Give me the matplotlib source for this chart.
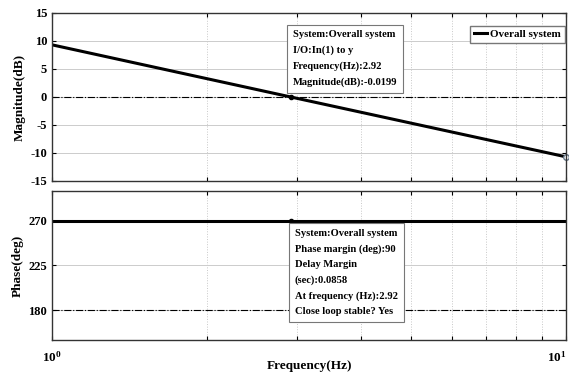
import matplotlib
matplotlib.use("Agg")
import matplotlib.pyplot as plt
from matplotlib.ticker import FixedLocator, NullFormatter

plt.rcParams['font.family'] = ['Liberation Serif', 'DejaVu Serif']
plt.rcParams['font.weight'] = 'bold'
plt.rcParams['axes.unicode_minus'] = False
plt.rcParams['mathtext.fontset'] = 'custom'
plt.rcParams['mathtext.rm'] = 'Liberation Serif:bold'
plt.rcParams['mathtext.bf'] = 'Liberation Serif:bold'
plt.rcParams['mathtext.it'] = 'Liberation Serif:bold'

# data
freq_hz = [1.0, 2.92, 10.0]
mag_db = [9.31, -0.0199, -10.69]
phase_deg = [270, 270, 270]
cross_freq = 2.92
cross_mag = -0.0199
cross_phase = 270
mag_ticks = [-15, -10, -5, 0, 5, 10, 15]
phase_ticks = [180, 225, 270]
minor_freqs = [2, 3, 4, 5, 6, 7, 8, 9]
freq_tick_labels = ['$\\mathbf{10^0}$', '$\\mathbf{10^1}$']

fig = plt.figure(figsize=(5.69, 3.81), dpi=100)
ax1 = fig.add_axes([0.0914, 0.525, 0.9033, 0.441])
ax2 = fig.add_axes([0.0914, 0.1076, 0.9033, 0.3911])

for ax in (ax1, ax2):
    ax.set_xscale('log')
    ax.set_xlim(1, 10)
    ax.xaxis.set_major_locator(FixedLocator([1, 10]))
    ax.xaxis.set_minor_locator(FixedLocator(minor_freqs))
    ax.xaxis.set_minor_formatter(NullFormatter())
    ax.tick_params(axis='both', which='both', direction='in', top=True, right=True,
                   labelsize=9, length=3, width=0.8)
    ax.grid(True, axis='x', which='both', color='#c8c8c8', linestyle=':', linewidth=0.7)
    ax.grid(True, axis='y', which='major', color='#cccccc', linestyle='-', linewidth=0.7)
    for s in ax.spines.values():
        s.set_linewidth(1.0)
        s.set_color('#333333')

# magnitude
ax1.plot(freq_hz, mag_db, color='black', linewidth=2.2, label='Overall system')
ax1.axhline(0, color='black', linestyle='-.', linewidth=0.8)
ax1.set_ylim(-15, 15)
ax1.set_yticks(mag_ticks)
ax1.set_xticklabels([])
ax1.set_ylabel('Magnitude(dB)', fontsize=9.5, fontweight='bold', labelpad=3)
ax1.plot([cross_freq], [cross_mag], marker='o', markersize=3, color='black')
ax1.plot([freq_hz[-1]], [mag_db[-1]], marker='o', markersize=4, markerfacecolor='white',
         markeredgecolor='#667788', clip_on=False)
leg = ax1.legend(loc='upper right', bbox_to_anchor=(0.998, 0.925), fontsize=8,
                 handlelength=1.2, handletextpad=0.3,
                 borderpad=0.35, fancybox=False, framealpha=1, edgecolor='#777777',
                 borderaxespad=0.0)
ax1.text(2.94, 11.9,
         'System:Overall system\nI/O:In(1) to y\nFrequency(Hz):2.92\nMagnitude(dB):-0.0199',
         fontsize=7.6, fontweight='bold', va='top', ha='left', linespacing=1.87,
         bbox=dict(boxstyle='square,pad=0.5', facecolor='white', edgecolor='#777777', linewidth=0.8))

# phase
ax2.plot(freq_hz, phase_deg, color='black', linewidth=2.2)
ax2.axhline(180, color='black', linestyle='-.', linewidth=0.8)
ax2.set_ylim(150, 300)
ax2.set_yticks(phase_ticks)
ax2.set_xticklabels(freq_tick_labels)
ax2.tick_params(axis='x', which='major', pad=7, labelsize=9.5)
lbls = ax2.get_xticklabels()
lbls[1].set_horizontalalignment('right')
ax2.set_ylabel('Phase(deg)', fontsize=9.5, fontweight='bold', labelpad=3)
ax2.set_xlabel('Frequency(Hz)', fontsize=9.5, fontweight='bold', labelpad=-3)
ax2.plot([cross_freq], [cross_phase], marker='o', markersize=3, color='black')
ax2.text(2.97, 261.5,
         'System:Overall system\nPhase margin (deg):90\nDelay Margin\n(sec):0.0858\nAt frequency (Hz):2.92\nClose loop stable? Yes',
         fontsize=7.6, fontweight='bold', va='top', ha='left', linespacing=1.85,
         bbox=dict(boxstyle='square,pad=0.6', facecolor='white', edgecolor='#777777', linewidth=0.8))

fig.savefig('out.png', dpi=100)
